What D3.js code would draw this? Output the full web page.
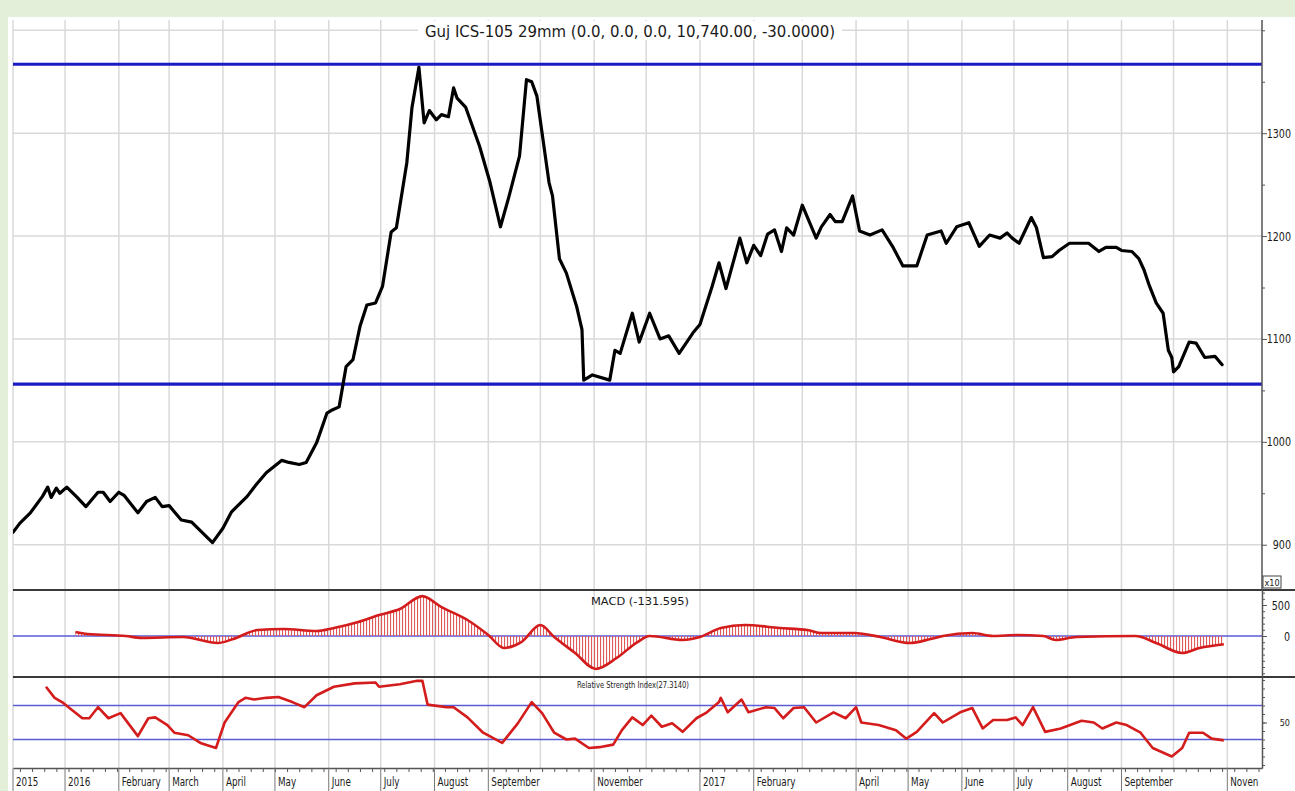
<!DOCTYPE html>
<html><head><meta charset="utf-8">
<script src="https://cdn.jsdelivr.net/npm/d3@7"></script>
<style>
html,body{margin:0;padding:0;background:#e3efd9;overflow:hidden;}
svg{display:block;}
text{font-family:"Liberation Sans Narrow","DejaVu Sans Condensed","Liberation Sans",Arial,sans-serif;fill:#1a1a1a;}
</style></head><body>
<svg id="c" width="1295" height="791"></svg>
<script>
// ---------- DATA ----------
const chartTitle = "Guj ICS-105 29mm (0.0, 0.0, 0.0, 10,740.00, -30.0000)";
const macdTitle = "MACD (-131.595)";
const rsiTitle = "Relative Strength Index(27.3140)";

const priceDates = ["2015-12-02","2015-12-06","2015-12-12","2015-12-19","2015-12-22","2015-12-24","2015-12-27","2015-12-29",
"2016-01-02","2016-01-08","2016-01-13","2016-01-20","2016-01-23","2016-01-27","2016-02-01","2016-02-04","2016-02-12","2016-02-17",
"2016-02-22","2016-02-26","2016-03-01","2016-03-08","2016-03-14","2016-03-20","2016-03-26","2016-04-01","2016-04-06","2016-04-15",
"2016-04-20","2016-04-26","2016-05-05","2016-05-09","2016-05-15","2016-05-19","2016-05-25","2016-05-31","2016-06-03","2016-06-07",
"2016-06-11","2016-06-15","2016-06-19","2016-06-23","2016-06-28","2016-07-02","2016-07-07","2016-07-10","2016-07-16","2016-07-19",
"2016-07-23","2016-07-26","2016-07-29","2016-08-02","2016-08-05","2016-08-09","2016-08-12","2016-08-14","2016-08-19","2016-08-27",
"2016-09-02","2016-09-08","2016-09-13","2016-09-19","2016-09-23","2016-09-26","2016-09-29","2016-10-06","2016-10-08","2016-10-12",
"2016-10-16","2016-10-22","2016-10-25","2016-10-26","2016-10-31","2016-11-10","2016-11-13","2016-11-16","2016-11-23","2016-11-27",
"2016-12-03","2016-12-09","2016-12-14","2016-12-20","2016-12-28","2017-01-01","2017-01-08","2017-01-12","2017-01-16","2017-01-24",
"2017-01-28","2017-02-01","2017-02-05","2017-02-09","2017-02-13","2017-02-17","2017-02-20","2017-02-24","2017-03-01","2017-03-09",
"2017-03-12","2017-03-17","2017-03-20","2017-03-24","2017-03-30","2017-04-03","2017-04-09","2017-04-16","2017-04-22","2017-04-28",
"2017-05-06","2017-05-12","2017-05-20","2017-05-23","2017-05-29","2017-06-05","2017-06-11","2017-06-17","2017-06-23","2017-06-27",
"2017-06-30","2017-07-04","2017-07-11","2017-07-14","2017-07-18","2017-07-23","2017-07-27","2017-08-02","2017-08-13","2017-08-19",
"2017-08-23","2017-08-29","2017-09-01","2017-09-07","2017-09-11","2017-09-14","2017-09-17","2017-09-21","2017-09-25","2017-09-28",
"2017-09-30","2017-10-01","2017-10-04","2017-10-10","2017-10-14","2017-10-19","2017-10-25","2017-10-29"];
const priceValues = [912,921,931,947,956,946,955,950,
956,946,937,951,951,942,951,948,931,942,
946,937,938,924,922,912,902,916,932,947,
958,970,982,980,978,980,999,1028,1031,1034,
1073,1080,1112,1133,1135,1151,1204,1208,1271,1325,
1364,1310,1322,1313,1318,1316,1344,1334,1325,1287,
1252,1209,1239,1278,1352,1350,1336,1252,1239,1178,
1164,1131,1109,1060,1065,1060,1089,1086,1125,1097,
1125,1100,1103,1086,1106,1114,1151,1174,1149,1198,
1174,1191,1181,1202,1206,1185,1208,1201,1230,1198,
1209,1221,1214,1214,1239,1205,1201,1206,1190,1171,
1171,1201,1205,1193,1209,1213,1190,1201,1198,1203,
1198,1193,1218,1208,1179,1180,1186,1193,1193,1185,
1189,1189,1186,1185,1178,1167,1152,1135,1125,1089,
1082,1068,1073,1097,1096,1082,1083,1075];

const channelLevels = [1367, 1056];

const macdDates = ["2016-01-07","2016-01-14","2016-02-05","2016-02-14","2016-03-09","2016-03-29","2016-04-07","2016-04-21","2016-05-06",
"2016-05-25","2016-06-04","2016-06-18","2016-06-30","2016-07-12","2016-07-25","2016-08-05","2016-08-20","2016-09-01","2016-09-10",
"2016-09-20","2016-10-01","2016-10-09","2016-10-21","2016-11-02","2016-11-14","2016-11-26","2016-12-03","2016-12-22","2017-01-01",
"2017-01-13","2017-01-27","2017-02-16","2017-03-04","2017-03-12","2017-03-31","2017-04-15","2017-05-02","2017-05-14","2017-05-21",
"2017-06-07","2017-06-19","2017-07-03","2017-07-18","2017-07-25","2017-08-06","2017-09-09","2017-09-21","2017-10-06","2017-10-16",
"2017-10-30"];
const macdValues = [64,32,0,-32,-16,-113,-48,97,113,
80,129,225,338,435,644,467,258,16,-193,
-97,177,-16,-274,-531,-354,-97,0,-64,-16,
129,177,129,97,48,48,-16,-113,-48,0,
48,0,16,0,-64,-16,0,-113,-274,-193,
-132];

const rsiDates = ["2015-12-21","2015-12-26","2015-12-31","2016-01-03","2016-01-11","2016-01-15","2016-01-20","2016-01-26","2016-02-02",
"2016-02-12","2016-02-18","2016-02-22","2016-02-29","2016-03-04","2016-03-12","2016-03-19","2016-03-28","2016-04-02","2016-04-10",
"2016-04-14","2016-04-19","2016-04-26","2016-05-03","2016-05-11","2016-05-18","2016-05-25","2016-06-04","2016-06-16","2016-06-28",
"2016-06-30","2016-07-12","2016-07-22","2016-07-25","2016-07-28","2016-08-08","2016-08-12","2016-08-20","2016-08-29","2016-09-09",
"2016-09-18","2016-09-26","2016-10-02","2016-10-09","2016-10-16","2016-10-21","2016-10-29","2016-11-04","2016-11-12","2016-11-17",
"2016-11-23","2016-11-29","2016-12-04","2016-12-10","2016-12-16","2016-12-22","2016-12-30","2017-01-05","2017-01-12","2017-01-13",
"2017-01-17","2017-01-25","2017-01-29","2017-02-08","2017-02-13","2017-02-18","2017-02-24","2017-03-02","2017-03-09","2017-03-19",
"2017-03-26","2017-04-01","2017-04-04","2017-04-14","2017-04-24","2017-04-30","2017-05-06","2017-05-16","2017-05-21","2017-05-31",
"2017-06-07","2017-06-13","2017-06-19","2017-06-27","2017-07-02","2017-07-06","2017-07-12","2017-07-19","2017-07-28","2017-08-09",
"2017-08-16","2017-08-21","2017-08-29","2017-09-04","2017-09-12","2017-09-19","2017-09-30","2017-10-06","2017-10-10","2017-10-18",
"2017-10-23","2017-10-30"];
const rsiValues = [92,79,73,68,55,55,68,55,61,
34,55,56,47,38,35,26,20,50,74,
79,77,79,80,74,68,82,92,96,97,
92,95,99,99,71,68,68,56,38,26,
49,74,61,38,30,31,20,21,24,41,
56,47,58,45,49,39,55,62,74,79,
62,77,62,68,67,55,67,68,50,62,
55,68,50,47,41,31,39,61,50,62,
67,43,53,53,56,47,68,39,43,52,
50,43,50,47,38,20,10,20,38,38,
31,29];
const rsiBands = [70, 30];

const priceTicks = [900, 1000, 1100, 1200, 1300];
const macdTicks = [0, 500];
const rsiTicks = [50];
const monthLabelDates = ["2015-12-02","2016-01-01","2016-02-01","2016-03-01","2016-04-01","2016-05-01","2016-06-01","2016-07-01",
"2016-08-01","2016-09-01","2016-11-01","2017-01-01","2017-02-01","2017-04-01","2017-05-01","2017-06-01","2017-07-01","2017-08-01",
"2017-09-01","2017-11-01"];
const monthLabels = ["2015","2016","February","March","April","May","June","July","August","September","November",
"2017","February","April","May","June","July","August","September","Noven"];

// ---------- LAYOUT ----------
const W = 1295, H = 791;
const L = 13, R = 1262;
const P1 = {top: 20, bottom: 590};
const P2 = {top: 590, bottom: 677};
const P3 = {top: 677, bottom: 768};
const parse = d3.utcParse("%Y-%m-%d");
const fmt = d3.format("d");

const svg = d3.select("#c");
svg.append("rect").attr("x", 8).attr("y", 17).attr("width", W - 8).attr("height", H - 17).attr("fill", "#ffffff");

const defs = svg.append("defs");
const pat = defs.append("pattern").attr("id", "hatch").attr("patternUnits", "userSpaceOnUse")
  .attr("width", 3).attr("height", 6);
pat.append("rect").attr("x", 0).attr("y", 0).attr("width", 1.1).attr("height", 6).attr("fill", "#e05a5a");
[["clip1", P1], ["clip2", P2], ["clip3", P3]].forEach(([id, p]) => {
  defs.append("clipPath").attr("id", id).append("rect")
    .attr("x", L).attr("y", p.top).attr("width", R - L).attr("height", p.bottom - p.top);
});

const x = d3.scaleUtc().domain([parse("2015-12-02"), parse("2017-11-21")]).range([L, R]);
const yP = d3.scaleLinear().domain([856, 1410]).range([P1.bottom, P1.top]);
const yM = d3.scaleLinear().domain([-661, 742]).range([P2.bottom, P2.top]);
const yR = d3.scaleLinear().domain([-3.5, 103.5]).range([P3.bottom, P3.top]);

function condense(sel, k) {
  sel.each(function() {
    const len = this.getComputedTextLength();
    d3.select(this).attr("textLength", len * k).attr("lengthAdjust", "spacingAndGlyphs");
  });
}

const gridColor = "#d9d9d9";
// vertical month gridlines
const months = x.ticks(d3.utcMonth.every(1));
svg.append("g").selectAll("line").data(months).join("line")
  .attr("x1", d => x(d)).attr("x2", d => x(d)).attr("y1", P1.top).attr("y2", P3.bottom)
  .attr("stroke", gridColor).attr("stroke-width", 1.5);
svg.append("line").attr("x1", L).attr("x2", L).attr("y1", P1.top).attr("y2", P3.bottom)
  .attr("stroke", gridColor).attr("stroke-width", 1.5);
// horizontal gridlines price
svg.append("g").selectAll("line").data(d3.range(900, 1401, 100)).join("line")
  .attr("x1", L).attr("x2", R).attr("y1", d => yP(d)).attr("y2", d => yP(d))
  .attr("stroke", gridColor).attr("stroke-width", 1.5);

// title
const titleG = svg.append("g");
titleG.append("rect").attr("x", 418).attr("y", 21).attr("width", 424).attr("height", 19).attr("fill", "#fff");
titleG.append("text").attr("x", 630).attr("y", 37).attr("text-anchor", "middle")
  .attr("font-size", 16).attr("textLength", 410).attr("lengthAdjust", "spacingAndGlyphs").text(chartTitle);

// channel lines
svg.append("g").selectAll("line").data(channelLevels).join("line")
  .attr("x1", L).attr("x2", R).attr("y1", d => yP(d)).attr("y2", d => yP(d))
  .attr("stroke", "#1b1bc4").attr("stroke-width", 3.2);

// price line
const priceData = priceDates.map((d, i) => ({date: parse(d), v: priceValues[i]}));
svg.append("path").datum(priceData).attr("clip-path", "url(#clip1)")
  .attr("fill", "none").attr("stroke", "#000").attr("stroke-width", 3.2)
  .attr("stroke-linejoin", "round").attr("stroke-linecap", "round")
  .attr("d", d3.line().x(d => x(d.date)).y(d => yP(d.v)));

// MACD panel
svg.append("line").attr("x1", L).attr("x2", R).attr("y1", yM(0)).attr("y2", yM(0))
  .attr("stroke", "#5b5bd6").attr("stroke-width", 1.6);
const macdData = macdDates.map((d, i) => ({date: parse(d), v: macdValues[i]}));
svg.append("path").datum(macdData).attr("clip-path", "url(#clip2)")
  .attr("fill", "url(#hatch)")
  .attr("d", d3.area().curve(d3.curveMonotoneX).x(d => x(d.date)).y0(yM(0)).y1(d => yM(d.v)));
svg.append("path").datum(macdData).attr("clip-path", "url(#clip2)")
  .attr("fill", "none").attr("stroke", "#d41c1c").attr("stroke-width", 2.6)
  .attr("d", d3.line().curve(d3.curveMonotoneX).x(d => x(d.date)).y(d => yM(d.v)));
svg.append("text").attr("x", 640).attr("y", 605).attr("text-anchor", "middle")
  .attr("font-size", 11).attr("textLength", 98).attr("lengthAdjust", "spacingAndGlyphs").text(macdTitle);

// RSI panel
svg.append("g").selectAll("line").data(rsiBands).join("line")
  .attr("x1", L).attr("x2", R).attr("y1", d => yR(d)).attr("y2", d => yR(d))
  .attr("stroke", "#5b5bd6").attr("stroke-width", 1.6);
const rsiData = rsiDates.map((d, i) => ({date: parse(d), v: rsiValues[i]}));
svg.append("path").datum(rsiData).attr("clip-path", "url(#clip3)")
  .attr("fill", "none").attr("stroke", "#d41c1c").attr("stroke-width", 2.6)
  .attr("stroke-linejoin", "round")
  .attr("d", d3.line().x(d => x(d.date)).y(d => yR(d.v)));
svg.append("text").attr("x", 633).attr("y", 688).attr("text-anchor", "middle")
  .attr("font-size", 8).attr("textLength", 112).attr("lengthAdjust", "spacingAndGlyphs").text(rsiTitle);

// panel separators
svg.append("g").selectAll("line").data([P2.top, P3.top]).join("line")
  .attr("x1", L).attr("x2", W).attr("y1", d => d).attr("y2", d => d)
  .attr("stroke", "#3a3a3a").attr("stroke-width", 2);

// right axes
function styleAxis(g) {
  g.select(".domain").attr("stroke", "#555").attr("stroke-width", 1.5);
  g.selectAll(".tick line").attr("stroke", "#555");
}
const axP = svg.append("g").attr("transform", `translate(${R},0)`)
  .call(d3.axisRight(yP).tickValues(priceTicks).tickFormat(fmt).tickSize(5).tickSizeOuter(0));
axP.selectAll("text").attr("x", 29).attr("text-anchor", "end").attr("font-size", 12.5).call(condense, 0.85);
styleAxis(axP);
axP.select(".domain").attr("d", `M0,${P1.top}V${P1.bottom}`);
svg.append("g").attr("transform", `translate(${R},0)`)
  .call(d3.axisRight(yP).tickValues([950, 1050, 1150, 1250, 1350, 1400]).tickSize(3).tickFormat(""))
  .call(g => g.select(".domain").remove()).call(styleAxis);

const axM = svg.append("g").attr("transform", `translate(${R},0)`)
  .call(d3.axisRight(yM).tickValues(macdTicks).tickFormat(fmt).tickSize(5).tickSizeOuter(0));
axM.selectAll("text").attr("x", 28).attr("text-anchor", "end").attr("font-size", 12.5).call(condense, 0.85);
styleAxis(axM);
svg.append("g").attr("transform", `translate(${R},0)`)
  .call(d3.axisRight(yM).tickValues(d3.range(-600, 701, 100)).tickSize(3).tickFormat(""))
  .call(g => g.select(".domain").remove()).call(styleAxis);

const axR = svg.append("g").attr("transform", `translate(${R},0)`)
  .call(d3.axisRight(yR).tickValues(rsiTicks).tickFormat(fmt).tickSize(5).tickSizeOuter(0));
axR.selectAll("text").attr("x", 28).attr("text-anchor", "end").attr("font-size", 9);
styleAxis(axR);
svg.append("g").attr("transform", `translate(${R},0)`)
  .call(d3.axisRight(yR).tickValues(d3.range(0, 101, 10)).tickSize(3).tickFormat(""))
  .call(g => g.select(".domain").remove()).call(styleAxis);

// x10 box
svg.append("rect").attr("x", 1263).attr("y", 576).attr("width", 18).attr("height", 12)
  .attr("fill", "#fff").attr("stroke", "#444").attr("stroke-width", 1);
svg.append("text").attr("x", 1272).attr("y", 586).attr("text-anchor", "middle").attr("font-size", 9).text("x10");

// bottom axis
const axX = svg.append("g").attr("transform", `translate(0,${P3.bottom})`)
  .call(d3.axisBottom(x).ticks(d3.utcWeek.every(1)).tickSize(4).tickSizeOuter(0).tickFormat(""));
axX.select(".domain").attr("stroke", "#555").attr("stroke-width", 1.5);
axX.selectAll(".tick line").attr("stroke", "#555");
const lab = svg.append("g");
lab.selectAll("line").data(monthLabelDates).join("line")
  .attr("x1", d => x(parse(d))).attr("x2", d => x(parse(d)))
  .attr("y1", P3.bottom).attr("y2", H).attr("stroke", "#777").attr("stroke-width", 1);
lab.selectAll("text").data(monthLabelDates).join("text")
  .attr("x", d => x(parse(d)) + 3).attr("y", 786).attr("font-size", 12.5)
  .text((d, i) => monthLabels[i])
  .call(condense, 0.78);
</script>
</body></html>
